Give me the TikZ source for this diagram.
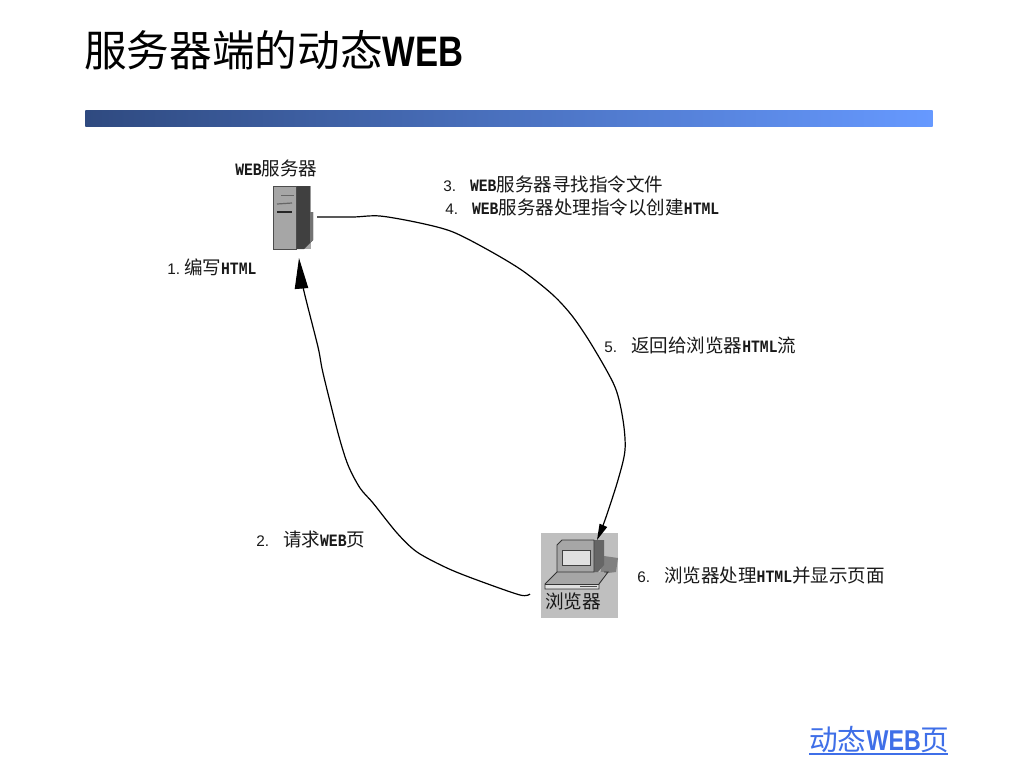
\documentclass[tikz,border=0pt]{standalone}
\usepackage{fontspec}
\usetikzlibrary{arrows.meta}
\newfontfamily\cjk{Noto Sans CJK SC}
\newfontfamily\titlelatin[FakeStretch=0.81]{Liberation Sans Bold}
\newfontfamily\pixlatin[FakeStretch=0.85]{Liberation Mono Bold}
\newfontfamily\numfont{Liberation Sans}
\newcommand{\wb}[1]{{\pixlatin\fontsize{13}{13}\selectfont #1}}
\newcommand{\nm}[1]{{\numfont\fontsize{11.5}{12}\selectfont #1}\hspace{10.5pt}}
\definecolor{linkblue}{HTML}{3F6FE8}
\definecolor{barleft}{HTML}{2F4A80}
\definecolor{barright}{HTML}{6699FF}
\tikzset{
  lbl/.style={anchor=west,inner sep=0pt,font=\cjk\fontsize{13.9}{15}\selectfont,text=black!90},
  flow/.style={draw=black,line width=0.9pt},
  bigtip/.style={-{Triangle[length=23pt,width=10pt]}},
  smalltip/.style={-{Triangle[length=12pt,width=6pt]}},
}
\begin{document}
\begin{tikzpicture}[x=0.75pt,y=-0.75pt]
\useasboundingbox (0,0) rectangle (1024,768);
\fill[white] (0,0) rectangle (1024,768);
% title
\node[anchor=west,inner sep=0pt] (title) at (84,50)
  {\cjk\fontsize{32}{36}\selectfont 服务器端的动态{\titlelatin\fontsize{32}{36}\selectfont WEB}};
% gradient bar
\node[minimum width=635.6pt,minimum height=12.5pt,inner sep=0pt,anchor=north west,
  left color=barleft,right color=barright,shading angle=90] (bar) at (85,110) {};
% server icon
\node[inner sep=0pt,minimum width=28.5pt,minimum height=47.25pt,anchor=north west,fill=black!35] (server) at (273,186) {};
\fill[black!75] (296,186) -- (310,186) -- (310,212) -- (313,212) -- (313,240) -- (304,249) -- (296,249) -- cycle;
\fill[black!55] (310,212) -- (313,212) -- (313,240) -- (310,243) -- cycle;
\draw[black!70,line width=0.6pt] (273,186) rectangle (296,249);
\draw[black!60,line width=0.7pt] (281,195) -- (294,195);
\draw[black!60,line width=0.9pt] (277,204) -- (292,203);
\draw[black!85,line width=0.9pt] (277,212) -- (292,212);
\node[lbl,anchor=west] (servername) at (235,168) {\wb{WEB}服务器};
% browser icon
\node[inner sep=0pt,minimum width=57.75pt,minimum height=63.75pt,anchor=north west,fill=black!25] (browser) at (541,533) {};
\fill[black!50] (604,556) -- (618,558) -- (616,572) -- (600,574) -- cycle;
\fill[black!35] (557,572) -- (545,584) -- (599,584) -- (606,572) -- cycle;
\fill[black!12] (545,584) rectangle (599,589);
\draw[black!80,line width=0.7pt] (557,572) -- (545,584) -- (545,589) -- (599,589) -- (599,584) -- (608,572) -- (604,572);
\draw[black!80,line width=0.7pt] (545,584) -- (599,584);
\fill[black!60] (594,540) -- (604,540) -- (604,565) -- (598,572) -- (594,572) -- cycle;
\fill[black!35,draw=black!80,line width=0.7pt] (557,545) -- (562,540) -- (594,540) -- (594,572) -- (557,572) -- cycle;
\fill[black!12,draw=black!75,line width=0.7pt] (562,550) rectangle (590,565);
\draw[black!70,line width=0.7pt] (580,586.5) -- (597,586.5);
\node[lbl,font=\cjk\fontsize{14}{16}\selectfont,text=black!90] (browsername) at (545,601) {浏览器};
% labels
\node[lbl] (s3) at (443,184) {\nm{3.}\wb{WEB}服务器寻找指令文件};
\node[lbl] (s4) at (445,207) {\nm{4.}\wb{WEB}服务器处理指令以创建\wb{HTML}};
\node[lbl] (s1) at (167,267) {{\numfont\fontsize{11.5}{12}\selectfont 1.}\hspace{3pt}编写\wb{HTML}};
\node[lbl] (s2) at (256,539) {\nm{2.}请求\wb{WEB}页};
\node[lbl] (s5) at (604,345) {\nm{5.}返回给浏览器\wb{HTML}流};
\node[lbl] (s6) at (637,575) {\nm{6.}浏览器处理\wb{HTML}并显示页面};
% link
\node[anchor=west,inner sep=0pt,text=linkblue] (link) at (809,740)
  {\cjk\fontsize{21.5}{24}\selectfont 动态{\titlelatin\fontsize{21.5}{24}\selectfont WEB}页};
\coordinate (linkL) at (809,754);
\coordinate (linkR) at (948,754);
\draw[linkblue,line width=1pt] (linkL) -- (linkR);
% connectors
\coordinate (srvout) at (317,217);
\coordinate (brin) at (597,540);
\coordinate (brout) at (530,594);
\coordinate (srvin) at (299,258);
\draw[flow,smalltip] plot[smooth,tension=0.5] coordinates
  {(srvout) (353,217) (380,216) (420,223) (453,232) (490,251) (523,271) (553,295) (573,317) (593,347) (615,387) (623,420) (625,450) (618,480) (605,520) (brin)};
\draw[flow,bigtip] plot[smooth,tension=0.5] coordinates
  {(brout) (520,595) (477,580) (447,568) (417,552) (397,533) (373,503) (360,488) (348,465) (338,433) (323,373) (318,347) (303,287) (srvin)};
\end{tikzpicture}
\end{document}
